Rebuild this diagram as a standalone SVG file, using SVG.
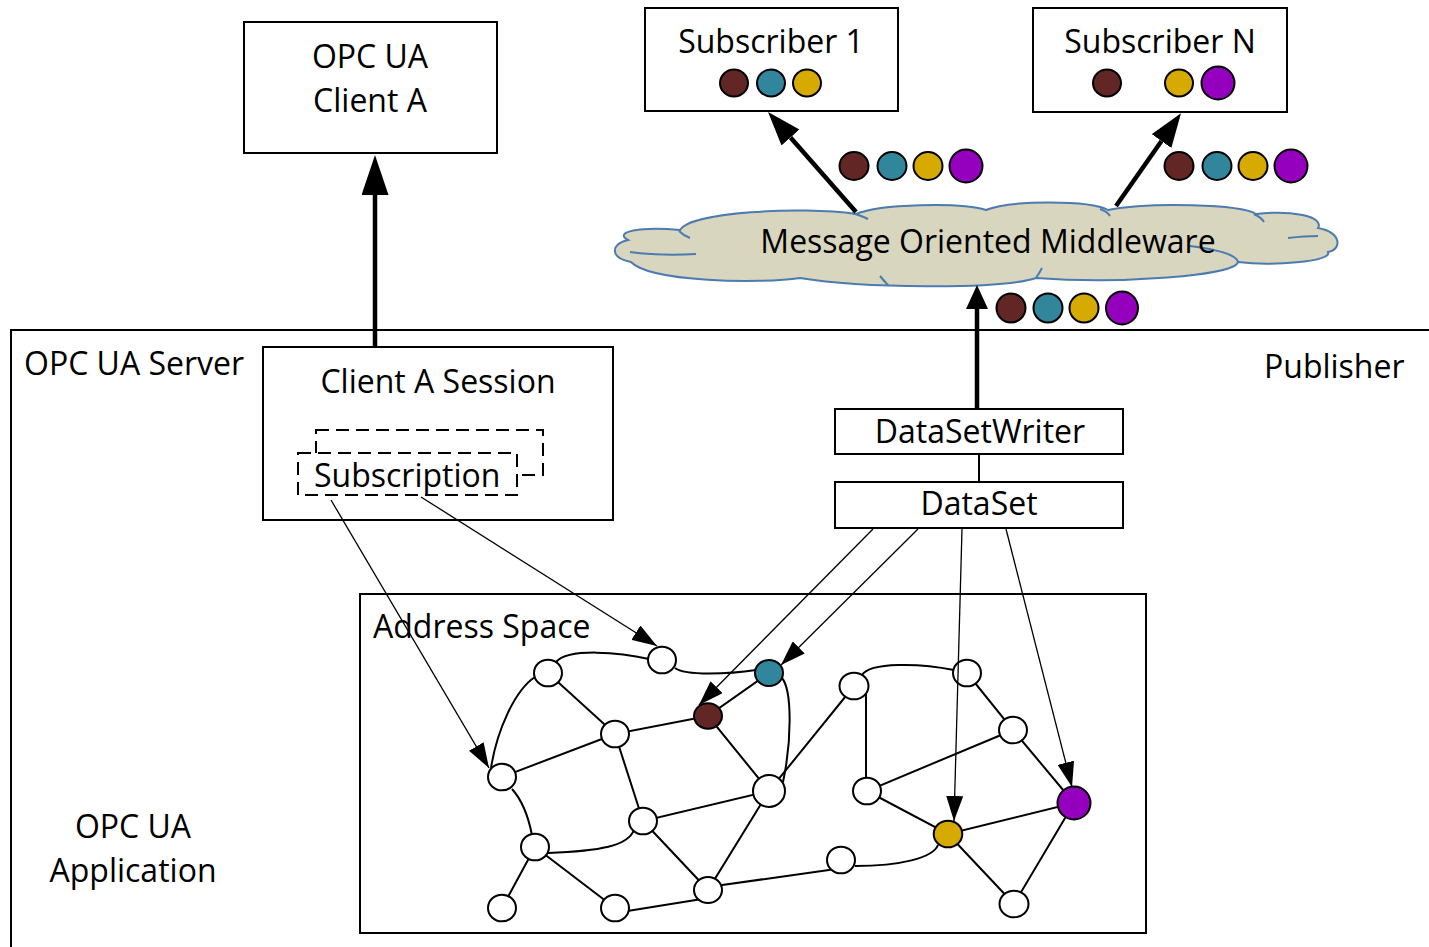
<svg xmlns="http://www.w3.org/2000/svg" width="1429" height="947" viewBox="0 0 1429 947">
<defs>
<style>
text{font-family:"Open Sans","Liberation Sans",sans-serif;font-size:32px;fill:#000}
.mid{text-anchor:middle}
.box{fill:#fff;stroke:#000;stroke-width:2}
.dash{fill:#fff;stroke:#000;stroke-width:2;stroke-dasharray:13 7}
.edge{fill:none;stroke:#000;stroke-width:2}
.thin{fill:none;stroke:#000;stroke-width:1.3;marker-end:url(#ah)}
.thick{fill:none;stroke:#000;stroke-width:4.5}
.n{fill:#fff;stroke:#000;stroke-width:2}
.br{fill:#622724;stroke:#000;stroke-width:2}
.tl{fill:#31869b;stroke:#000;stroke-width:2}
.yl{fill:#d6aa00;stroke:#000;stroke-width:2}
.pu{fill:#9400bd;stroke:#000;stroke-width:2}
.cloud{fill:#d8d6bf;stroke:#4c7baf;stroke-width:2}
.cin{fill:none;stroke:#4c7baf;stroke-width:2}
</style>
<marker id="ah" markerUnits="userSpaceOnUse" markerWidth="25" markerHeight="17" viewBox="0 0 25 17" refX="25" refY="8.5" orient="auto"><path d="M0,0 L25,8.5 L0,17 Z" fill="#000"/></marker>
<marker id="ahb" markerUnits="userSpaceOnUse" markerWidth="34" markerHeight="24" viewBox="0 0 34 24" refX="0" refY="12" orient="auto"><path d="M0,0 L34,12 L0,24 Z" fill="#000"/></marker>
<marker id="ahp" markerUnits="userSpaceOnUse" markerWidth="40" markerHeight="27" viewBox="0 0 40 27" refX="0" refY="13.5" orient="auto"><path d="M0,0 L40,13.5 L0,27 Z" fill="#000"/></marker>
<marker id="ahc" markerUnits="userSpaceOnUse" markerWidth="24" markerHeight="22" viewBox="0 0 24 22" refX="0" refY="11" orient="auto"><path d="M0,0 L24,11 L0,22 Z" fill="#000"/></marker>
</defs>
<rect width="1429" height="947" fill="#fff"/>

<g id="opc-ua-server">
<path d="M11,947 L11,330 L1429,330" fill="none" stroke="#000" stroke-width="2"/>
<text x="24" y="375">OPC UA Server</text>
<text x="1264" y="378">Publisher</text>
<text class="mid" x="133" y="838">OPC UA</text>
<text class="mid" x="133" y="882">Application</text>
</g>

<g id="client-a">
<rect class="box" x="244" y="22" width="253" height="131"/>
<text class="mid" x="370" y="68">OPC UA</text>
<text class="mid" x="370" y="112">Client A</text>
</g>

<g id="subscriber-1">
<rect class="box" x="645" y="8" width="253" height="103"/>
<text class="mid" x="771" y="53">Subscriber 1</text>
<ellipse class="br" cx="734" cy="83" rx="14" ry="13.5"/>
<ellipse class="tl" cx="771" cy="83" rx="14" ry="13.5"/>
<ellipse class="yl" cx="807" cy="83" rx="14" ry="13.5"/>
</g>

<g id="subscriber-n">
<rect class="box" x="1033" y="8" width="254" height="104"/>
<text class="mid" x="1160" y="53">Subscriber N</text>
<ellipse class="br" cx="1107" cy="83" rx="14" ry="13.5"/>
<ellipse class="yl" cx="1179" cy="83" rx="14" ry="13.5"/>
<ellipse class="pu" cx="1218" cy="83" rx="16.5" ry="16.5"/>
</g>

<g id="middleware">
<path class="cloud" d="M631,262 C610,258 610,244 628,240 C613,232 640,226 680,230 C690,212 800,206 856,214 C880,204 960,202 986,210 C1010,200 1090,200 1108,210 C1150,202 1240,204 1256,214 C1290,210 1325,216 1318,228 C1342,232 1342,250 1328,252 C1333,262 1270,266 1238,262 C1235,276 1120,284 1036,278 C1000,290 860,288 800,278 C760,284 650,282 631,262 Z"/>
<path class="cin" d="M630,252 Q660,256 696,254 M679,231 Q684,236 690,238 M852,213 Q862,216 868,219 M1100,209 Q1108,212 1110,216 M1254,214 Q1262,218 1264,222 M1288,238 Q1305,236 1318,236 M1238,262 Q1236,252 1190,246 M1036,278 Q1040,272 1042,268 M880,276 Q885,282 888,285"/>
<text class="mid" x="988" y="253">Message Oriented Middleware</text>
</g>

<g id="client-a-session">
<rect class="box" x="263" y="347" width="350" height="173"/>
<text class="mid" x="438" y="393">Client A Session</text>
<rect class="dash" x="316" y="430" width="227" height="45"/>
<rect class="dash" x="298" y="453" width="219" height="42"/>
<text x="314" y="487">Subscription</text>
</g>

<g id="datasetwriter">
<rect class="box" x="835" y="409" width="288" height="45"/>
<text class="mid" x="980" y="443">DataSetWriter</text>
</g>
<g id="dataset">
<rect class="box" x="835" y="482" width="288" height="46"/>
<text class="mid" x="979" y="515">DataSet</text>
</g>

<g id="messages">
<ellipse class="br" cx="854" cy="166" rx="14.5" ry="14"/>
<ellipse class="tl" cx="892" cy="166" rx="14.5" ry="14"/>
<ellipse class="yl" cx="928" cy="166" rx="14.5" ry="14"/>
<ellipse class="pu" cx="966" cy="166" rx="16.5" ry="16.5"/>
<ellipse class="br" cx="1179" cy="166" rx="14.5" ry="14"/>
<ellipse class="tl" cx="1217" cy="166" rx="14.5" ry="14"/>
<ellipse class="yl" cx="1253" cy="166" rx="14.5" ry="14"/>
<ellipse class="pu" cx="1291" cy="166" rx="16.5" ry="16.5"/>
<ellipse class="br" cx="1011" cy="308" rx="14.5" ry="14.5"/>
<ellipse class="tl" cx="1048" cy="308" rx="14.5" ry="14.5"/>
<ellipse class="yl" cx="1084" cy="308" rx="14.5" ry="14.5"/>
<ellipse class="pu" cx="1122" cy="308" rx="16" ry="16.5"/>
</g>

<g id="connectors">
<line class="thick" x1="375" y1="347" x2="375" y2="195" stroke-width="5" marker-end="url(#ahp)"/>
<line class="thick" x1="856" y1="212" x2="790.5" y2="137.5" marker-end="url(#ahb)"/>
<line class="thick" x1="1116" y1="206" x2="1161.5" y2="141" marker-end="url(#ahb)"/>
<line class="thick" x1="977" y1="409" x2="977" y2="309" marker-end="url(#ahc)"/>
<line class="edge" x1="979" y1="454" x2="979" y2="482"/>
</g>

<g id="address-space">
<rect class="box" x="360" y="594" width="786" height="339"/>
<text x="373" y="638">Address Space</text>
<g id="graph-edges" class="edge">
<path d="M548,673 L615,734 L708,716 M615,734 L502,777 M615,734 L643,821 M769,673 L708,716 L769,791 L854,686 M769,791 L643,821 L708,890 L769,791 M535,847 L502,908 M535,847 L615,908 M615,913 L702,899 M708,887 L836,869 M866,686 L866,790 M967,673 L1013,730 L867,791 L948,834 L1074,803 L1013,730 M948,834 L1014,904 L1074,803"/>
<path d="M556,662 C568,648 620,652 649,659"/>
<path d="M675,668 C685,676 730,674 756,670"/>
<path d="M782,678 C792,690 792,740 783,782"/>
<path d="M535,677 C515,690 497,730 491,768"/>
<path d="M512,789 C522,800 528,815 532,835"/>
<path d="M548,853 C600,851 628,846 634,830"/>
<path d="M862,675 C870,662 920,663 954,670"/>
<path d="M855,866 C900,866 933,858 938,845"/>
</g>
<g id="graph-nodes">
<ellipse id="n1" class="n" cx="548" cy="673" rx="14" ry="13.3"/>
<ellipse id="n2" class="n" cx="662" cy="660" rx="14" ry="13.3"/>
<ellipse id="n3" class="tl" cx="769" cy="673" rx="14" ry="13"/>
<ellipse id="n4" class="br" cx="708" cy="716" rx="14" ry="12.7"/>
<ellipse id="n5" class="n" cx="615" cy="734" rx="14" ry="13.3"/>
<ellipse id="n6" class="n" cx="502" cy="777" rx="14" ry="13.3"/>
<ellipse id="n7" class="n" cx="769" cy="791" rx="16" ry="16"/>
<ellipse id="n8" class="n" cx="643" cy="821" rx="14" ry="13.3"/>
<ellipse id="n9" class="n" cx="535" cy="847" rx="14" ry="13.3"/>
<ellipse id="n10" class="n" cx="708" cy="890" rx="14" ry="13"/>
<ellipse id="n11" class="n" cx="502" cy="908" rx="14" ry="13.3"/>
<ellipse id="n12" class="n" cx="615" cy="908" rx="14" ry="13.3"/>
<ellipse id="n13" class="n" cx="854" cy="686" rx="14.5" ry="13.3"/>
<ellipse id="n14" class="n" cx="967" cy="673" rx="14" ry="13.3"/>
<ellipse id="n15" class="n" cx="1013" cy="730" rx="14" ry="13.3"/>
<ellipse id="n16" class="n" cx="867" cy="791" rx="14" ry="13.3"/>
<ellipse id="n17" class="yl" cx="948" cy="834" rx="14.3" ry="13.3"/>
<ellipse id="n18" class="pu" cx="1074" cy="803" rx="16.5" ry="16.5"/>
<ellipse id="n19" class="n" cx="841" cy="860" rx="14" ry="13.3"/>
<ellipse id="n20" class="n" cx="1014" cy="904" rx="14.5" ry="13.3"/>
</g>
</g>

<g id="mapping-arrows">
<line class="thin" x1="331" y1="500" x2="489" y2="768"/>
<line class="thin" x1="421" y1="497" x2="657" y2="646"/>
<line class="thin" x1="873" y1="529" x2="699" y2="705"/>
<line class="thin" x1="918" y1="529" x2="781" y2="665"/>
<line class="thin" x1="962" y1="529" x2="954" y2="821"/>
<line class="thin" x1="1006" y1="529" x2="1072" y2="787"/>
</g>
</svg>
